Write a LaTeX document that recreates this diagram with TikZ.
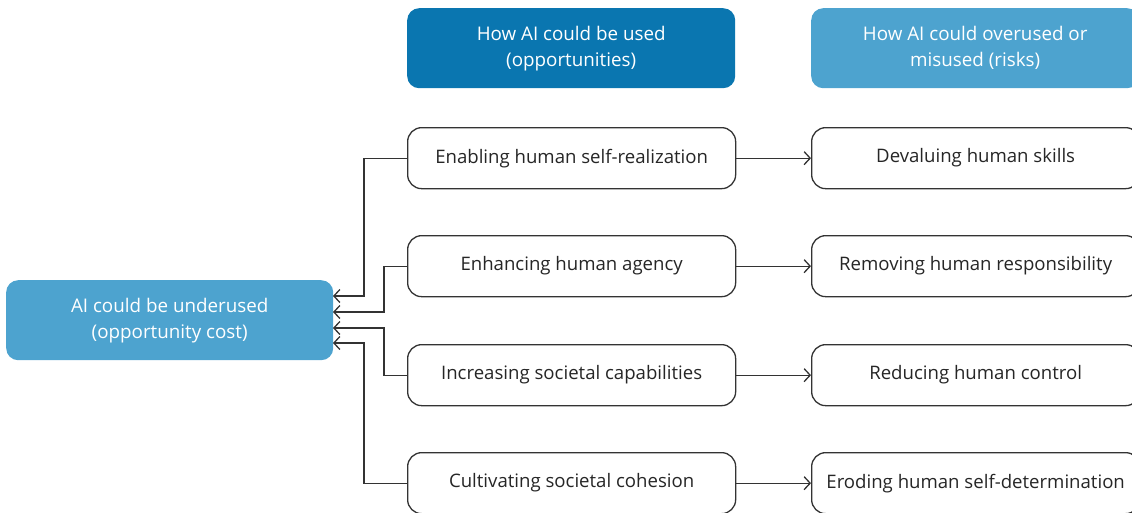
\documentclass[tikz,border=0pt]{standalone}
\usepackage{fontspec}
\setmainfont{Open Sans}
\usetikzlibrary{arrows.meta}
\definecolor{darkblue}{HTML}{0A76B0}
\definecolor{lightblue}{HTML}{4DA3CF}
\definecolor{linegray}{HTML}{333333}
\tikzset{
  hdr/.style={rounded corners=12pt, minimum width=328pt, minimum height=80pt, text=white, align=center, font=\fontsize{18.8}{26}\selectfont, inner sep=0pt, anchor=north west},
  item/.style={draw=linegray, line width=1.3pt, rounded corners=14pt, fill=white, minimum width=328pt, minimum height=61pt, text=black!85, font=\fontsize{18.6}{22}\selectfont, inner sep=0pt, anchor=north west},
  conn/.style={draw=linegray, line width=1.3pt, -{Straight Barb[length=6pt,width=13pt,line width=1.3pt]}},
}
\begin{document}
\begin{tikzpicture}[x=1pt,y=-1pt]
\useasboundingbox (0,0) rectangle (1132,512);
\clip (0,0) rectangle (1132,512);
% left node
\node[hdr, fill=lightblue, minimum width=327pt] (under) at (6,280) {AI could be underused\\(opportunity cost)};
% headers
\node[hdr, fill=darkblue] (h1) at (407,8) {How AI could be used\\(opportunities)};
\node[hdr, fill=lightblue] (h2) at (811,8) {How AI could overused or\\misused (risks)};
% middle
\node[item] (m1) at (407,127) {Enabling human self-realization};
\node[item] (m2) at (407,235) {Enhancing human agency};
\node[item] (m3) at (407,344) {Increasing societal capabilities};
\node[item] (m4) at (407,452) {Cultivating societal cohesion};
% right
\node[item] (r1) at (811,127) {Devaluing human skills};
\node[item] (r2) at (811,235) {Removing human responsibility};
\node[item] (r3) at (811,344) {Reducing human control};
\node[item] (r4) at (811,452) {Eroding human self-determination};
% arrows right
\foreach \i in {1,2,3,4} \draw[conn] (m\i.east) -- (r\i.west);
% arrows left
\coordinate (t1) at (333,296);
\coordinate (t2) at (333,312);
\coordinate (t3) at (333,328);
\coordinate (t4) at (333,343);
\draw[conn] (m1.west) -| (364,296) -- (t1);
\draw[conn] (m2.west) -| (384,312) -- (t2);
\draw[conn] (m3.west) -| (384,328) -- (t3);
\draw[conn] (m4.west) -| (364,343) -- (t4);
\end{tikzpicture}
\end{document}
